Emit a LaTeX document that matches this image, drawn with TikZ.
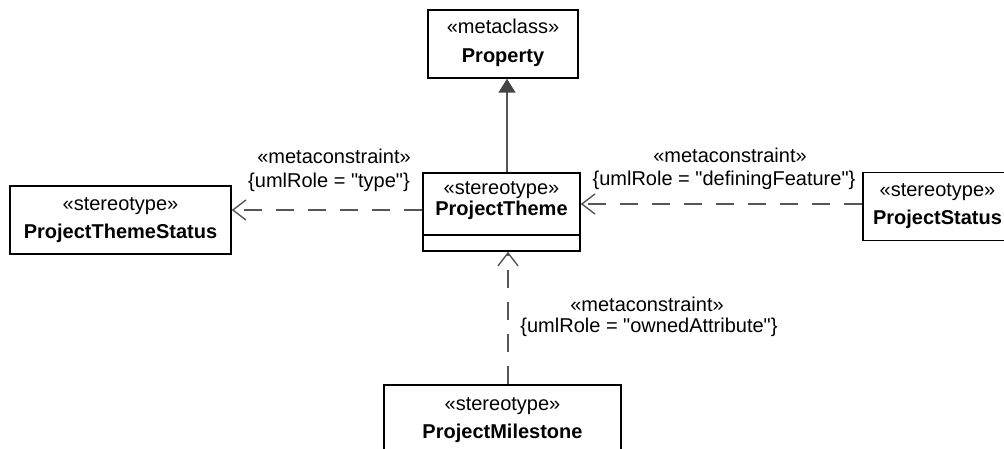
\documentclass[tikz,border=0pt]{standalone}
\usepackage{fontspec}
\setmainfont{Liberation Sans}[Ligatures=TeXOff]
\usetikzlibrary{arrows.meta}
\definecolor{lgray}{HTML}{555555}
\definecolor{tgray}{HTML}{444444}
\tikzset{
  cls/.style={draw=black, line width=1.5pt, inner sep=0pt, minimum height=68pt},
  txt/.style={inner sep=0pt, anchor=base, font=\fontsize{20}{24}\selectfont},
  btxt/.style={txt, font=\fontsize{20}{24}\selectfont\bfseries},
  dep/.style={draw=lgray, line width=1.4pt, dash pattern=on 18pt off 14pt,
    -{Straight Barb[length=13pt,width=20pt,line width=1.4pt]}},
  gen/.style={draw=lgray, line width=1.5pt,
    -{Triangle[length=14pt,width=17pt,fill=tgray,color=tgray]}},
}
\begin{document}
\begin{tikzpicture}[x=1pt,y=-1pt]
\useasboundingbox (0,0) rectangle (1004,449);
% boxes
\node[cls, minimum width=150pt] (prop) at (503,44) {};
\node[cls, minimum width=157pt, minimum height=78pt] (pt) at (501.5,212) {};
\draw[line width=1.5pt] (pt.west |- 0,235) -- (pt.east |- 0,235);
\node[cls, minimum width=221pt] (pts) at (120.5,220) {};
\node[cls, minimum width=149pt] (ps) at (937.5,206.5) {};
\node[cls, minimum width=237pt] (pm) at (502.5,419) {};
% texts
\node[txt] (propS) at (503,34) {«metaclass»};
\node[btxt] (propN) at (503,63) {Property};
\node[txt] (ptS) at (501.5,195) {«stereotype»};
\node[btxt] (ptN) at (501.5,216) {ProjectTheme};
\node[txt] (ptsS) at (120.5,211) {«stereotype»};
\node[btxt] (ptsN) at (120.5,239) {ProjectThemeStatus};
\node[txt] (psS) at (937.5,197) {«stereotype»};
\node[btxt] (psN) at (937.5,225) {ProjectStatus};
\node[txt] (pmS) at (502.5,410) {«stereotype»};
\node[btxt] (pmN) at (502.5,438) {ProjectMilestone};
% connectors
\draw[gen] (pt.north -| 507,0) -- (prop.south -| 507,0);
\draw[dep] (pt.west |- 0,210) -- (pts.east |- 0,210);
\draw[dep] (ps.west |- 0,204) -- (pt.east |- 0,204);
\draw[dep] (pm.north -| 508,0) -- (pt.south -| 508,0);
% labels
\node[txt] (l1a) at (334,164) {«metaconstraint»};
\node[txt] (l1b) at (329,188) {\{umlRole = "type"\}};
\node[txt] (l2a) at (730,163) {«metaconstraint»};
\node[txt] (l2b) at (724,186) {\{umlRole = "definingFeature"\}};
\node[txt] (l3a) at (647,311) {«metaconstraint»};
\node[txt] (l3b) at (649,332) {\{umlRole = "ownedAttribute"\}};
\end{tikzpicture}
\end{document}
